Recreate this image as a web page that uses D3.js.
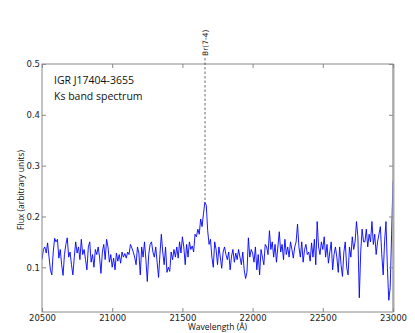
<!DOCTYPE html>
<html><head><meta charset="utf-8">
<script src="https://cdn.jsdelivr.net/npm/d3@7"></script>
<style>body{margin:0;background:#fff}svg{display:block}</style>
</head><body>
<svg id="c" width="415" height="333"></svg>
<script>
const startWave = 20500;
const stepWave = 10;
const flux = [
 0.115,0.135,0.140,0.128,0.148,0.120,0.095,0.085,0.130,0.157,
 0.150,0.155,0.118,0.135,0.105,0.084,0.125,0.145,0.158,0.120,
 0.130,0.105,0.085,0.120,0.150,0.128,0.140,0.115,0.155,0.125,
 0.135,0.115,0.095,0.140,0.150,0.110,0.125,0.100,0.135,0.125,
 0.140,0.120,0.088,0.130,0.145,0.115,0.155,0.140,0.110,0.125,
 0.100,0.118,0.095,0.128,0.112,0.125,0.108,0.130,0.120,0.127,
 0.118,0.130,0.125,0.145,0.138,0.130,0.120,0.105,0.140,0.128,
 0.085,0.140,0.120,0.150,0.115,0.072,0.125,0.145,0.150,0.130,
 0.120,0.140,0.110,0.080,0.125,0.165,0.130,0.105,0.140,0.090,
 0.100,0.092,0.130,0.115,0.135,0.120,0.140,0.118,0.150,0.128,
 0.160,0.140,0.105,0.145,0.120,0.150,0.135,0.142,0.130,0.165,
 0.160,0.175,0.165,0.195,0.180,0.205,0.228,0.222,0.172,0.145,
 0.155,0.120,0.100,0.150,0.135,0.105,0.140,0.120,0.098,0.130,
 0.140,0.125,0.115,0.130,0.095,0.122,0.135,0.110,0.128,0.115,
 0.135,0.120,0.105,0.130,0.095,0.078,0.090,0.158,0.120,0.135,
 0.128,0.110,0.140,0.095,0.125,0.085,0.135,0.120,0.105,0.145,
 0.140,0.125,0.172,0.135,0.150,0.120,0.145,0.110,0.140,0.170,
 0.130,0.145,0.115,0.155,0.125,0.140,0.120,0.150,0.135,0.118,
 0.140,0.150,0.185,0.140,0.120,0.150,0.110,0.135,0.145,0.125,
 0.130,0.112,0.148,0.120,0.155,0.105,0.190,0.140,0.125,0.150,
 0.135,0.160,0.120,0.145,0.108,0.130,0.150,0.095,0.125,0.140,
 0.120,0.090,0.140,0.105,0.082,0.130,0.150,0.100,0.085,0.140,
 0.120,0.160,0.135,0.150,0.190,0.160,0.040,0.130,0.175,0.150,
 0.150,0.175,0.140,0.165,0.150,0.190,0.145,0.165,0.125,0.150,
 0.165,0.180,0.125,0.085,0.150,0.190,0.100,0.035,0.060,0.165,
 0.270
];
const xTicks = [20500,21000,21500,22000,22500,23000];
const yTicks = [0.1,0.2,0.3,0.4,0.5];
const lineLabel = "Br(7-4)";
const lineWave = 21661;
const lineTop = 0.228;
const titleLines = ["IGR J17404-3655","Ks band spectrum"];
const xLabel = "Wavelength (Å)";
const yLabel = "Flux (arbitrary units)";

const data = flux.map((f,i)=>({w:startWave+i*stepWave,f}));
const svg = d3.select("#c");
const L=42,R=393,T=64,B=312;
const x = d3.scaleLinear().domain([20500,23000]).range([L,R]);
const y = d3.scaleLinear().domain([0.012,0.5]).range([B,T]);

const tickFont = "DejaVu Sans, sans-serif";
const axisColor = "#888";

svg.append("clipPath").attr("id","cp").append("rect")
  .attr("x",L).attr("y",T).attr("width",R-L).attr("height",B-T);
svg.append("path").datum(data)
  .attr("clip-path","url(#cp)")
  .attr("fill","none").attr("stroke","#0000ff").attr("stroke-width",0.9)
  .attr("d",d3.line().x(d=>x(d.w)).y(d=>y(d.f)));

svg.append("rect").attr("x",L).attr("y",T).attr("width",R-L).attr("height",B-T)
  .attr("fill","none").attr("stroke",axisColor).attr("stroke-width",1);
svg.append("line").attr("x1",R+0.5).attr("x2",R+0.5).attr("y1",T).attr("y2",B)
  .attr("stroke","#aaa").attr("stroke-width",2);

const gx = svg.append("g").attr("transform",`translate(0,${B})`)
  .call(d3.axisBottom(x).tickValues(xTicks).tickFormat(d3.format("d")).tickSizeInner(-4).tickSizeOuter(0).tickPadding(2.5));
const gxt = svg.append("g").attr("transform",`translate(0,${T})`)
  .call(d3.axisTop(x).tickValues(xTicks).tickFormat("").tickSizeInner(-4).tickSizeOuter(0));
const gy = svg.append("g").attr("transform",`translate(${L},0)`)
  .call(d3.axisLeft(y).tickValues(yTicks).tickFormat(d3.format(".1f")).tickSizeInner(-4).tickSizeOuter(0).tickPadding(2));
const gyr = svg.append("g").attr("transform",`translate(${R},0)`)
  .call(d3.axisRight(y).tickValues(yTicks).tickFormat("").tickSizeInner(-4).tickSizeOuter(0));
[gx,gxt,gy,gyr].forEach(g=>{
  g.select(".domain").remove();
  g.selectAll("line").attr("stroke",axisColor);
  g.selectAll("text").attr("font-family",tickFont).attr("font-size",8.5).attr("fill","#222");
});

svg.append("line").attr("x1",x(lineWave)).attr("x2",x(lineWave))
  .attr("y1",58).attr("y2",y(lineTop))
  .attr("stroke","#444").attr("stroke-width",0.8).attr("stroke-dasharray","2.5,2");
svg.append("text").attr("transform",`translate(${x(lineWave)+3},56) rotate(-90)`)
  .attr("font-family",tickFont).attr("font-size",7.5).attr("fill","#222")
  .text(lineLabel);

svg.selectAll(".tt").data(titleLines).enter().append("text")
  .attr("x",54).attr("y",(d,i)=>84+i*15.5)
  .attr("font-family","Open Sans, sans-serif").attr("font-size",10.5).attr("fill","#111")
  .text(d=>d);

svg.append("text").attr("x",(L+R)/2).attr("y",330).attr("text-anchor","middle")
  .attr("font-family","Open Sans, sans-serif").attr("font-size",8.5).attr("fill","#111").text(xLabel);
svg.append("text").attr("transform",`translate(24,${(T+B)/2+2}) rotate(-90)`).attr("text-anchor","middle")
  .attr("font-family","Open Sans, sans-serif").attr("font-size",8.5).attr("fill","#111").text(yLabel);
</script>
</body></html>
